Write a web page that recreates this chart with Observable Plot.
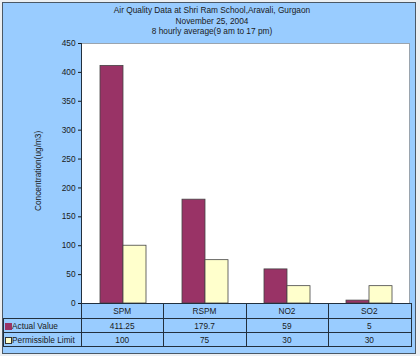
<!DOCTYPE html>
<html><head><meta charset="utf-8">
<script src="https://cdn.jsdelivr.net/npm/d3@7"></script>
<script src="https://cdn.jsdelivr.net/npm/@observablehq/plot@0.6"></script>
<style>
body{margin:0;}
#wrap{position:relative;width:420px;height:356px;background:#eceff2;overflow:hidden;font-family:"Liberation Sans",Arial,sans-serif;color:#1a1a1a;}
.abs{position:absolute;}
.t{position:absolute;font-size:8.3px;line-height:10px;text-align:center;white-space:nowrap;}
</style></head>
<body>
<div id="wrap">
  <div class="abs" style="left:2px;top:2px;width:412px;height:350px;background:#99ccff;border:1px solid #4a5866;"></div>
  <div id="title" class="abs" style="left:2px;top:5px;width:420px;text-align:center;font-size:8.3px;line-height:10.5px;"></div>
  <div class="abs" style="left:81px;top:43px;width:329px;height:260px;background:#fff;border-top:1px solid #9aa4ae;border-right:1px solid #9aa4ae;box-sizing:border-box;"></div>
  <div id="ylabel" class="abs" style="left:-2px;top:166px;width:80px;text-align:center;font-size:8.3px;line-height:10px;transform:rotate(-90deg);white-space:nowrap;"></div>
  <div id="chart" class="abs" style="left:0;top:0;"></div>
  <div id="table"></div>
</div>
<script>
const titleLines = ["Air Quality Data at Shri Ram School,Aravali, Gurgaon", "November 25, 2004", "8 hourly average(9 am to 17 pm)"];
const categories = ["SPM", "RSPM", "NO2", "SO2"];
const series = ["Actual Value", "Permissible Limit"];
const actualValues = [411.25, 179.7, 59, 5];
const actualLabels = ["411.25", "179.7", "59", "5"];
const limitValues = [100, 75, 30, 30];
const limitLabels = ["100", "75", "30", "30"];
const seriesColors = ["#993366", "#ffffcc"];
const yTicks = [0, 50, 100, 150, 200, 250, 300, 350, 400, 450];
const yLabel = "Concentration(ug/m3)";

document.getElementById("title").innerHTML = titleLines.map(s => `<div>${s}</div>`).join("");
document.getElementById("ylabel").textContent = yLabel;

const data = [];
categories.forEach((c, i) => {
  data.push({cat: c, series: series[0], value: actualValues[i]});
  data.push({cat: c, series: series[1], value: limitValues[i]});
});

const chart = Plot.plot({
  width: 420, height: 356,
  marginLeft: 81, marginRight: 10, marginTop: 43, marginBottom: 53,
  style: {background: "transparent", fontFamily: "'Liberation Sans', Arial, sans-serif", fontSize: "8.3px", color: "#1a1a1a", overflow: "visible"},
  facet: {data, x: "cat"},
  fx: {domain: categories, padding: 0, axis: null, label: null},
  x: {domain: series, paddingInner: 0, paddingOuter: 0.75, axis: null},
  y: {domain: [0, 450], ticks: yTicks, tickSize: 4, tickPadding: 3, tickFormat: d3.format("d"), label: null},
  color: {domain: series, range: seriesColors},
  marks: [
    Plot.barY(data, {x: "series", y: "value", fill: "series", stroke: "#444", strokeWidth: 0.8})
  ]
});
document.getElementById("chart").appendChild(chart);

// data table below the plot
const tbl = document.getElementById("table");
const X0 = 81, X1 = 410.5, L = 3;
const colW = (X1 - X0) / categories.length;
const rows = [303, 318, 332, 346];
const lineColor = "#22303e";
function hline(x, y, w){ const d=document.createElement("div"); d.className="abs"; d.style.cssText=`left:${x}px;top:${y}px;width:${w}px;height:1px;background:${lineColor}`; tbl.appendChild(d);}
function vline(x, y, h){ const d=document.createElement("div"); d.className="abs"; d.style.cssText=`left:${x}px;top:${y}px;width:1px;height:${h}px;background:${lineColor}`; tbl.appendChild(d);}
function text(s, cx, cy, align){ const d=document.createElement("div"); d.className="t"; d.textContent=s;
  if(align==="left"){ d.style.left=cx+"px"; d.style.textAlign="left"; } else { d.style.left=(cx-40)+"px"; d.style.width="80px"; }
  d.style.top=(cy-5)+"px"; tbl.appendChild(d); }
hline(X0, rows[0], X1 - X0);
hline(L, rows[1], X1 - L);
hline(L, rows[2], X1 - L);
hline(L, rows[3], X1 - L + 1);
vline(L, rows[1], rows[3] - rows[1]);
vline(X0 - 0.5, 43, rows[3] - 43);
for (let i = 1; i <= categories.length; i++) vline(Math.round(X0 + i * colW) - 0.5, rows[0], rows[3] - rows[0]);
categories.forEach((c, i) => {
  const cx = X0 + (i + 0.5) * colW;
  text(c, cx, (rows[0] + rows[1]) / 2 + 0.5);
  text(actualLabels[i], cx, (rows[1] + rows[2]) / 2 + 0.5);
  text(limitLabels[i], cx, (rows[2] + rows[3]) / 2 + 0.5);
});
// legend keys
[1, 2].forEach((r, k) => {
  const cy = (rows[r] + rows[r + 1]) / 2 + 0.5;
  const sw = document.createElement("div"); sw.className = "abs";
  sw.style.cssText = `left:5px;top:${cy - 3}px;width:5px;height:5px;background:${seriesColors[k]};border:1px solid ${k ? "#333" : seriesColors[k]};`;
  tbl.appendChild(sw);
  text(series[k], 12, cy, "left");
});
</script>
</body></html>
